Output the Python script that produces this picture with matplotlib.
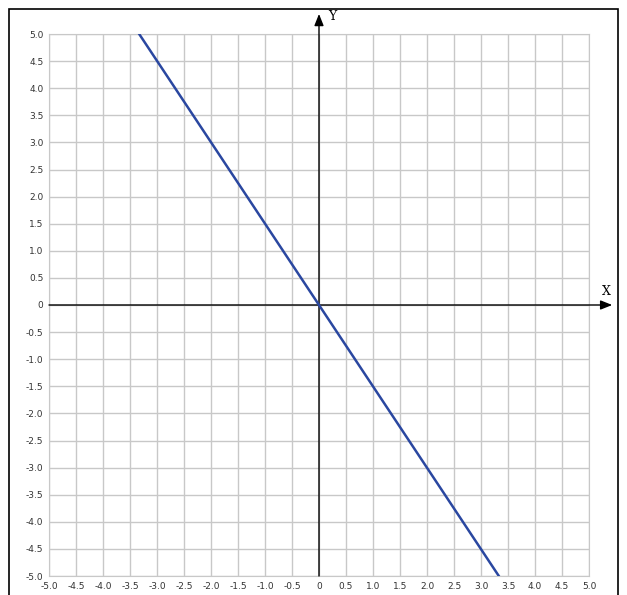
import matplotlib.pyplot as plt
from matplotlib.patches import Rectangle

# values
line_x = [-3.33, 3.33]
line_y = [5.0, -5.0]
ticks = [-5.0, -4.5, -4.0, -3.5, -3.0, -2.5, -2.0, -1.5, -1.0, -0.5, 0,
         0.5, 1.0, 1.5, 2.0, 2.5, 3.0, 3.5, 4.0, 4.5, 5.0]
tick_labels = ["0" if t == 0 else "%.1f" % t for t in ticks]

W, H = 627, 595
fig = plt.figure(figsize=(W / 100, H / 100), dpi=100)

# outer frame
fig.add_artist(Rectangle((9 / W, -0.05), 609 / W, 1.05 - 9 / H,
                         transform=fig.transFigure, fill=False,
                         edgecolor="black", linewidth=1.2))

ax = fig.add_axes([49 / W, 19 / H, 540 / W, 542 / H])
ax.set_xlim(-5, 5)
ax.set_ylim(-5, 5)
ax.set_xticks(ticks)
ax.set_yticks(ticks)
ax.set_xticklabels(tick_labels, fontsize=6.5, color="#333333")
ax.set_yticklabels(tick_labels, fontsize=6.5, color="#333333")
ax.tick_params(length=0, pad=4)
ax.grid(True, color="#c8c8c8", linewidth=1)
for s in ax.spines.values():
    s.set_color("#c8c8c8")
ax.set_axisbelow(True)

# axes with arrows
arrow = dict(arrowstyle="-|>,head_length=0.5,head_width=0.2", color="black",
             lw=1, mutation_scale=14, shrinkA=0, shrinkB=0)
ax.annotate("", xy=(5.43, 0), xytext=(-5, 0), annotation_clip=False,
            arrowprops=arrow)
ax.annotate("", xy=(0, 5.37), xytext=(0, -5), annotation_clip=False,
            arrowprops=arrow)
ax.text(5.33, 0.25, "X", fontsize=9, family="DejaVu Serif", ha="center", va="center")
ax.text(0.25, 5.32, "Y", fontsize=9, family="DejaVu Serif", ha="center", va="center")

ax.plot(line_x, line_y, color="#2a47a0", linewidth=1.8, zorder=3)

fig.savefig("out.png", dpi=100)
